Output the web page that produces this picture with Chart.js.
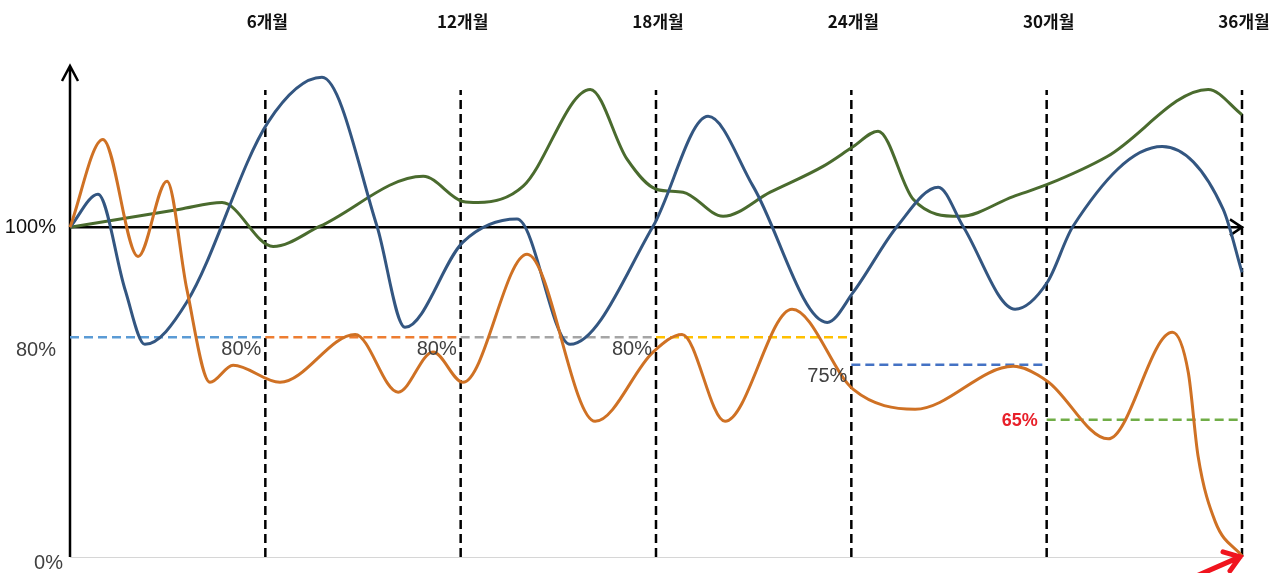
<!DOCTYPE html>
<html>
<head>
<meta charset="utf-8">
<script src="https://cdn.jsdelivr.net/npm/chart.js@4"></script>
<style>
  body { margin: 0; background: #fff; }
  #wrap { width: 1285px; height: 573px; }
</style>
</head>
<body>
<div id="wrap"><canvas id="chart" width="1285" height="573"></canvas></div>
<script>
// values, 100 = baseline, months on x
const blueMonths = [0, 0.86, 1.69, 2.30, 3.59, 6.08, 7.74, 9.43, 10.29, 12.07, 13.73, 15.36, 17.91, 19.60, 20.98, 23.26, 24.06, 25.41, 26.67, 27.43, 29.03, 30.02, 30.81, 33.55, 35.42, 36];
const blueValues = [100, 106, 88.7, 78.7, 86.4, 119.1, 127.3, 100.2, 81.8, 97.3, 101.5, 78.7, 100.2, 120.2, 107.5, 82.7, 88.2, 100.2, 107.3, 100.2, 85.1, 90, 100.2, 114.7, 103.3, 91.8];

const greenMonths = [0, 3.38, 4.67, 6.24, 7.68, 10.85, 12.07, 12.53, 13.92, 15.98, 17.11, 18.03, 18.83, 20.06, 21.51, 23.13, 24.06, 24.82, 25.90, 27.34, 28.97, 30.02, 31.86, 34.96, 36];
const greenValues = [100, 103.3, 104.5, 96.5, 100.2, 109.3, 104.7, 104.5, 107.5, 125.1, 112.4, 106.9, 106.4, 102, 106.4, 111.1, 114.7, 117.5, 105.1, 102, 105.6, 107.8, 112.9, 125.1, 120.5];

const orangeMonths = [0, 1.01, 2.09, 2.98, 3.59, 4.30, 5.01, 6.45, 8.76, 10.08, 11.15, 12.07, 14.04, 16.13, 17.91, 18.80, 20.12, 22.18, 24.06, 25.96, 28.97, 30.02, 31.89, 33.86, 34.35, 34.65, 35.18, 36];
const orangeValues = [100, 116, 94.7, 108.4, 88.7, 71.8, 74.9, 71.8, 80.5, 70, 77.3, 71.8, 95.1, 64.7, 77.3, 80.5, 64.7, 85.1, 70.5, 66.9, 74.7, 72, 61.5, 80.9, 73.6, 58.4, 46.4, 40.2];

// checkpoints every 6 months, with target levels per period
const checkMonths = [6, 12, 18, 24, 30, 36];
const periodStarts = [0, 6, 12, 18, 24, 30];
const periodTargets = [80, 80, 80, 80, 75, 65];
const periodColors = ['#5B9BD5', '#ED7D31', '#A5A5A5', '#FFC000', '#4472C4', '#70AD47'];
const targetLabels = ['80%', '80%', '80%', '75%', '65%'];

// y tick labels (bottom of axis is drawn as 0%)
const yTickValues = [100, 80, 40];
const yTickLabels = ['100%', '80%', '0%'];

const Y_MIN = 40, Y_MAX = 129, LINE_TOP = 125;

function pts(xs, ys) {
    return xs.map((m, i) => ({ x: m, y: ys[i] }));
}

const datasets = [
    { data: pts(orangeMonths, orangeValues), borderColor: '#CF7124', borderWidth: 3 },
    { data: pts(blueMonths, blueValues), borderColor: '#335681', borderWidth: 3 },
    { data: pts(greenMonths, greenValues), borderColor: '#4A6B2E', borderWidth: 3 }
];

periodStarts.forEach((s, i) => {
    datasets.push({
        data: [{ x: s, y: periodTargets[i] }, { x: s + 6, y: periodTargets[i] }],
        borderColor: periodColors[i], borderWidth: 2.5, borderDash: [9, 5], tension: 0
    });
});

checkMonths.forEach(m => {
    datasets.push({
        data: [{ x: m, y: Y_MIN }, { x: m, y: LINE_TOP }],
        borderColor: '#000', borderWidth: 2.5, borderDash: [9, 5], tension: 0
    });
});

datasets.forEach(d => {
    d.pointRadius = 0;
    d.fill = false;
    d.clip = false;
    if (d.tension === undefined) d.cubicInterpolationMode = 'monotone';
});

const overlay = {
    id: 'overlay',
    beforeDatasetsDraw(chart) {
        const { ctx, chartArea: a, scales: { x, y } } = chart;
        const base = y.getPixelForValue(100);
        const right = x.getPixelForValue(36);
        ctx.save();
        // faint bottom line
        ctx.strokeStyle = '#d6d6d6';
        ctx.lineWidth = 1;
        ctx.beginPath();
        ctx.moveTo(a.left, a.bottom + 0.5);
        ctx.lineTo(right, a.bottom + 0.5);
        ctx.stroke();
        // axes with arrows
        ctx.strokeStyle = '#000';
        ctx.lineWidth = 2.5;
        ctx.beginPath();
        ctx.moveTo(a.left, a.bottom);
        ctx.lineTo(a.left, a.top - 2);
        ctx.moveTo(a.left - 8, a.top + 13);
        ctx.lineTo(a.left, a.top - 2);
        ctx.lineTo(a.left + 8, a.top + 13);
        ctx.moveTo(a.left, base);
        ctx.lineTo(right, base);
        ctx.moveTo(right - 12, base - 8);
        ctx.lineTo(right, base);
        ctx.lineTo(right - 12, base + 8);
        ctx.stroke();
        ctx.restore();
    },
    afterDatasetsDraw(chart) {
        const { ctx, chartArea: a, scales: { x, y } } = chart;
        ctx.save();
        // month labels along the top
        ctx.fillStyle = '#111';
        ctx.font = 'bold 17px "Noto Sans CJK KR", "Noto Sans", sans-serif';
        ctx.textAlign = 'center';
        ctx.textBaseline = 'middle';
        checkMonths.forEach(m => ctx.fillText(m + '개월', x.getPixelForValue(m) + 2, 22));

        // y labels
        ctx.font = '20px "Liberation Sans", "Noto Sans", sans-serif';
        ctx.textAlign = 'right';
        const yOff = [0, 13, 6];
        const xRight = [56, 56, 63];
        yTickValues.forEach((v, i) => {
            ctx.fillStyle = i === 0 ? '#111' : '#404040';
            ctx.fillText(yTickLabels[i], xRight[i], y.getPixelForValue(v) + yOff[i]);
        });

        // target labels left of each checkpoint
        targetLabels.forEach((t, i) => {
            const last = i === targetLabels.length - 1;
            const px = x.getPixelForValue(checkMonths[i]) - 4;
            const lv = periodTargets[i + 1];
            if (last) {
                ctx.fillStyle = '#E8202A';
                ctx.font = 'bold 18px "Liberation Sans", "Noto Sans", sans-serif';
                ctx.fillText(t, px - 5, y.getPixelForValue(lv) + 1);
            } else {
                ctx.fillStyle = '#404040';
                ctx.font = '20px "Liberation Sans", "Noto Sans", sans-serif';
                ctx.fillText(t, px, y.getPixelForValue(lv) + 12);
            }
        });

        // red arrow pointing at the end of the orange line
        const ex = x.getPixelForValue(orangeMonths[orangeMonths.length - 1]);
        const ey = y.getPixelForValue(orangeValues[orangeValues.length - 1]);
        ctx.strokeStyle = '#F0141E';
        ctx.lineWidth = 5;
        ctx.lineCap = 'round';
        ctx.beginPath();
        ctx.moveTo(ex - 50, ey + 22);
        ctx.lineTo(ex - 2, ey + 1);
        ctx.moveTo(ex - 19, ey - 4);
        ctx.lineTo(ex - 2, ey + 1);
        ctx.lineTo(ex - 12, ey + 15);
        ctx.stroke();
        ctx.restore();
    }
};

new Chart(document.getElementById('chart'), {
    type: 'line',
    data: { datasets: datasets },
    options: {
        responsive: false,
        animation: false,
        events: [],
        layout: { padding: { top: 68, right: 43, bottom: 16, left: 0 } },
        plugins: { legend: { display: false }, tooltip: { enabled: false } },
        scales: {
            x: { type: 'linear', min: 0, max: 36, display: false },
            y: {
                min: Y_MIN, max: Y_MAX,
                grid: { display: false },
                border: { display: false },
                ticks: { display: false },
                afterFit(scale) { scale.width = 70; }
            }
        }
    },
    plugins: [overlay]
});
</script>
</body>
</html>
